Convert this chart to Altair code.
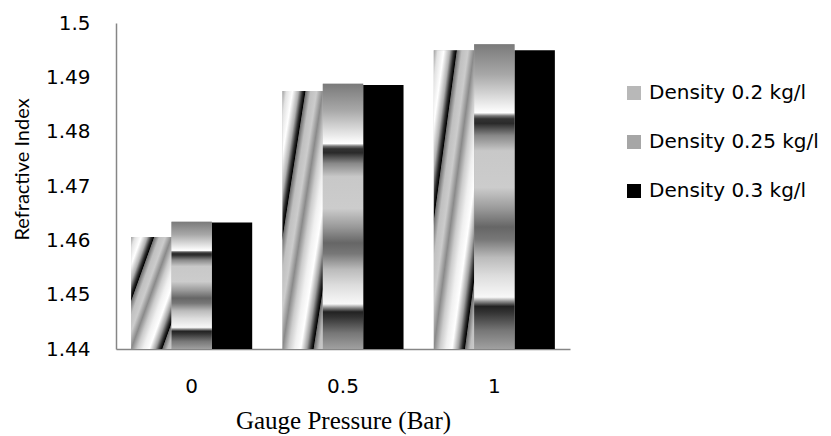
import altair as alt
import pandas as pd

# ---- data ----
pressures = ["0", "0.5", "1"]
series = ["Density 0.2 kg/l", "Density 0.25 kg/l", "Density 0.3 kg/l"]
density_02 = [1.4606, 1.4875, 1.4950]
density_025 = [1.4634, 1.4888, 1.4961]
density_03 = [1.4633, 1.4886, 1.4950]
y_ticks = [1.44, 1.45, 1.46, 1.47, 1.48, 1.49, 1.5]

rows = []
for s, vals in zip(series, [density_02, density_025, density_03]):
    for p, v in zip(pressures, vals):
        rows.append({"pressure": p, "series": s, "value": v})
df = pd.DataFrame(rows)

FONT = "DejaVu Sans"
AXIS_GREY = "#868686"

# diagonal-stripe style gradient (series 1); positions along x+y in bbox units
diag = [
    (0.00, "#a0a0a0"), (0.10, "#e2e2e2"), (0.25, "#ffffff"), (0.40, "#b0b0b0"),
    (0.50, "#303030"), (0.56, "#000000"), (0.58, "#707070"), (0.70, "#c0c0c0"),
    (0.85, "#cccccc"), (1.00, "#8a8a8a"), (1.15, "#cccccc"), (1.30, "#f0f0f0"),
    (1.45, "#ffffff"), (1.60, "#a0a0a0"), (1.70, "#303030"), (1.76, "#000000"),
    (1.78, "#707070"), (1.90, "#c0c0c0"), (2.00, "#cccccc"),
]
grad1 = alt.Gradient(
    gradient="linear",
    stops=[alt.GradientStop(offset=c / 2.0, color=col) for c, col in diag],
    x1=0, y1=0, x2=1, y2=1,
)

# horizontal band gradient (series 2), top to bottom
bands = [
    (0.00, "#7a7a7a"), (0.10, "#a8a8a8"), (0.20, "#eeeeee"), (0.225, "#ffffff"),
    (0.235, "#777777"), (0.245, "#333333"), (0.26, "#2a2a2a"), (0.30, "#888888"),
    (0.35, "#c8c8c8"), (0.47, "#cccccc"), (0.54, "#999999"), (0.60, "#666666"),
    (0.64, "#777777"), (0.70, "#bbbbbb"), (0.76, "#dddddd"), (0.83, "#f8f8f8"),
    (0.845, "#888888"), (0.86, "#222222"), (0.88, "#333333"), (0.94, "#777777"),
    (1.00, "#a0a0a0"),
]
grad2 = alt.Gradient(
    gradient="linear",
    stops=[alt.GradientStop(offset=o, color=col) for o, col in bands],
    x1=0, y1=0, x2=0, y2=1,
)

x_enc = alt.X(
    "pressure:N",
    sort=pressures,
    scale=alt.Scale(paddingInner=0.2, paddingOuter=0.1),
    axis=alt.Axis(
        title="Gauge Pressure (Bar)",
        labelAngle=0,
        ticks=False,
        labelPadding=27,
        labelFont=FONT,
        labelFontSize=20,
        labelColor="#000000",
        domainColor=AXIS_GREY,
        domainWidth=1.5,
        titleFont="Liberation Serif",
        titleFontSize=25,
        titleFontWeight="normal",
        titleColor="#000000",
        titleBaseline="alphabetic",
        titleY=79,
    ),
)
y_enc = alt.Y(
    "value:Q",
    scale=alt.Scale(domain=[1.44, 1.5], zero=False, nice=False),
    axis=alt.Axis(
        title="Refractive Index",
        values=y_ticks,
        format="~g",
        ticks=False,
        grid=False,
        labelPadding=26,
        labelFont=FONT,
        labelFontSize=20,
        labelColor="#000000",
        domainColor=AXIS_GREY,
        domainWidth=1.5,
        titleFont="Lato",
        titleFontSize=20,
        titleFontWeight="normal",
        titleColor="#000000",
        titleAngle=-90,
        titleAlign="center",
        titleBaseline="middle",
        titleX=-94,
        titleY=146,
    ),
)
xoff = alt.XOffset("series:N", sort=series, scale=alt.Scale(domain=series))

base = alt.Chart(df).encode(x=x_enc, xOffset=xoff, y=y_enc, y2=alt.Y2(datum=1.44))

legend_layer = base.mark_bar().encode(
    color=alt.Color(
        "series:N",
        scale=alt.Scale(domain=series, range=["#b8b8b8", "#a6a6a6", "#000000"]),
        legend=alt.Legend(
            orient="none",
            legendX=508,
            legendY=60,
            title=None,
            symbolType="square",
            symbolSize=196,
            symbolStrokeWidth=0,
            labelFont=FONT,
            labelFontSize=20,
            labelColor="#000000",
            labelOffset=5,
            labelLimit=400,
            rowPadding=29,
        ),
    )
)
layer1 = base.transform_filter(alt.datum.series == series[0]).mark_bar(fill=grad1)
layer2 = base.transform_filter(alt.datum.series == series[1]).mark_bar(fill=grad2)

chart = (
    alt.layer(legend_layer, layer1, layer2)
    .properties(
        width=454,
        height=326,
        autosize=alt.AutoSizeParams(type="none"),
        padding={"left": 116, "top": 23, "right": 261, "bottom": 87},
        background="#ffffff",
    )
    .configure_view(stroke=None)
    .configure_axis(grid=False)
)

chart.save("out.html", embed_options={"renderer": "svg", "actions": False})
